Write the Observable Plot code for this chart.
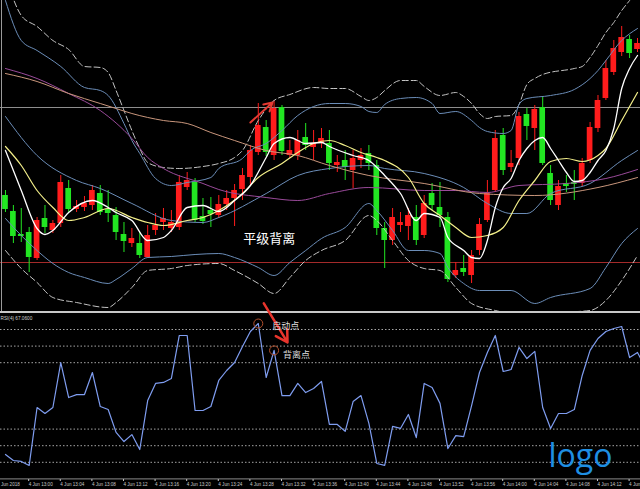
<!DOCTYPE html>
<html><head><meta charset="utf-8">
<script src="https://cdn.jsdelivr.net/npm/d3@7"></script>
<script src="https://cdn.jsdelivr.net/npm/@observablehq/plot@0.6"></script>
<style>
html,body{margin:0;padding:0;background:#000;overflow:hidden;width:640px;height:489px;}
#chart{position:relative;width:640px;height:489px;}
#chart svg{display:block;}
</style></head>
<body><div id="chart"></div>
<script>
// ---------- candles (1-minute bars, bar 0 = 12:57) ----------
const candleOpen  = [125,109,86,88,62,102,90,97,132,111, 113,115,127,111,105,86,77,77,63,90, 98,92,93,133,138,104,110,105,116,122, 131,143,168,193,165,213,165,165,183,173, 177,177,155,160,150,160,167,155,92,80, 95,94,103,85,127,113,103,45,52,45, 70,100,130,185,153,162,206,192,213,147, 115,137,138,137,160,192,222,248,268,281, 271];
const candleClose = [111,84,84,63,100,93,97,138,111,114, 117,130,108,107,88,79,82,65,85,95, 102,98,138,140,100,99,106,116,122,130, 145,170,195,168,212,169,170,180,175,177, 182,157,158,153,162,165,157,92,80,103, 98,105,80,117,115,105,41,50,48,65, 96,127,182,150,157,204,194,211,157,120, 134,134,136,157,193,220,252,272,283,267, 277];
const candleHigh  = [130,115,112,93,103,115,100,145,140,120, 124,135,135,130,113,98,92,88,95,107, 112,110,145,148,142,122,123,125,130,136, 152,175,217,200,220,215,180,190,197,190, 192,190,165,170,170,172,175,160,98,112, 108,112,115,125,137,138,108,58,65,70, 102,140,190,192,170,208,212,215,223,155, 140,145,150,162,198,225,260,280,294,285, 282];
const candleLow   = [108,77,78,48,60,87,87,93,108,108, 109,110,105,98,80,68,73,62,62,85, 90,88,90,130,98,96,93,102,110,94, 120,135,165,164,160,165,162,160,170,160, 172,150,148,140,132,152,150,85,52,75, 88,80,75,82,110,93,38,42,44,37, 65,98,128,145,148,155,180,170,155,115, 110,128,120,134,157,188,220,245,264,262, 268];

// ---------- indicator lines: [bar, value] ----------
const bandOuterUpper = [[0,345],[2,305],[4,294],[6,280],[8,271],[10,254],[12,253],[13,248],[14,230],[15,210],[16,190],[17,172],[18,158],[20,153],[22,152],[25,154],[27,157],[29,163],[30,170],[32,200],[34,220],[36,226],[39,233],[41,232],[43,232],[45,224],[46,220],[47,223],[48,230],[50,240],[52,240],[53,234],[55,225],[57,228],[58,224],[59,217],[60,207],[61,202],[62,204],[64,205],[65,216],[66,236],[67,242],[68,246],[72,252],[73,254],[74,263],[75,275],[76,288],[77,298],[78,310],[79,320],[80,330]];
const bandInnerUpper = [[0,320],[2,280],[4,270],[7,254],[10,233],[12,230],[13,225],[15,197],[16,180],[17,167],[19,142],[21,135],[23,138],[26,143],[27,152],[30,162],[31,170],[33,177],[35,190],[37,205],[39,214],[41,217],[43,217],[45,214],[46,209],[47,208],[48,216],[50,222],[52,223],[54,217],[55,207],[57,209],[59,200],[60,193],[61,189],[63,187],[64,190],[65,216],[66,222],[69,225],[72,231],[74,242],[75,250],[76,260],[78,280],[80,292]];
const bandMiddle = [[0,204],[4,165],[9,140],[12,132],[16,117],[21,100],[25,98],[27,103],[33,127],[37,145],[41,152],[46,155],[48,152],[53,147],[58,133],[61,117],[64,107],[66,107],[69,127],[74,137],[78,160],[80,170]];
const bandInnerLower = [[0,102],[2,85],[4,70],[6,57],[8,48],[10,43],[13,37],[14,41],[16,52],[18,63],[21,64],[24,66],[27,67],[29,63],[32,53],[34,45],[36,58],[38,70],[40,82],[43,93],[46,117],[47,110],[49,90],[51,70],[53,70],[55,67],[56,53],[58,37],[60,30],[64,30],[67,17],[69,23],[74,32],[76,53],[78,77],[80,92]];
const bandOuterLower = [[0,70],[2,52],[4,38],[6,23],[9,18],[13,13],[14,18],[16,33],[18,50],[21,52],[23,55],[27,57],[29,50],[32,37],[34,27],[36,43],[38,60],[40,70],[43,80],[46,105],[47,100],[49,80],[51,60],[53,52],[55,50],[57,33],[59,17],[62,10],[66,5],[70,8],[74,10],[76,20],[78,40],[80,65]];
const maPurple = [[0,252],[4,242],[8,227],[12,210],[16,182],[18,163],[20,152],[25,137],[27,131],[33,123],[37,120],[41,127],[46,133],[53,130],[57,130],[61,128],[65,135],[71,137],[76,142],[80,151]];
const maTan = [[0,247],[4,239],[8,227],[12,217],[14,212],[16,207],[20,200],[23,197],[26,188],[29,180],[33,170],[37,165],[41,155],[46,145],[53,137],[60,127],[67,125],[75,133],[80,143]];
const maYellow = [[0,174],[2,155],[4,130],[6,113],[8,100],[10,103],[13,112],[16,103],[18,98],[20,95],[23,100],[25,103],[27,110],[30,127],[32,143],[35,157],[37,168],[39,177],[41,180],[43,175],[45,168],[47,163],[48,160],[51,143],[53,117],[55,105],[57,93],[59,83],[61,85],[63,93],[65,120],[67,140],[69,159],[71,162],[73,159],[75,165],[76,172],[78,200],[80,228]];
const maWhite = [[0,170],[2,130],[4,92],[5,86],[6,90],[8,108],[11,120],[13,113],[14,108],[16,100],[18,80],[20,83],[21,90],[23,113],[25,115],[27,109],[29,120],[31,135],[33,163],[34,177],[36,183],[38,177],[40,178],[41,174],[44,165],[46,160],[48,145],[50,127],[52,100],[53,107],[55,103],[56,83],[58,70],[59,63],[60,62],[61,80],[62,113],[63,133],[64,142],[65,160],[66,172],[67,180],[68,183],[69,172],[70,160],[71,148],[72,139],[73,140],[74,148],[75,160],[76,170],[77,192],[78,232],[79,252],[80,265]];
const levelHigh = 213, levelLow = 58;

// ---------- RSI(4) ----------
const rsiValues = [14.7,11.1,10.5,8.1,43.0,39.4,43.0,70.1,49.0,50.8, 50.8,64.1,43.6,41.8,28.0,22.5,26.7,17.7,47.2,57.5, 58.1,60.5,86.4,86.4,41.2,41.2,43.6,59.3,65.3,70.1, 79.8,88.8,93.6,61.1,77.4,50.2,50.2,57.5,52.0,54.5, 58.7,32.8,32.8,28.6,46.6,50.2,33.4,9.3,8.1,31.6, 30.4,38.8,24.9,57.5,55.1,45.5,18.3,26.1,25.5,44.2, 64.1,76.2,86.4,64.7,65.9,79.2,72.5,76.8,43.0,30.4, 39.4,39.4,41.8,62.3,77.4,84.6,88.8,90.6,91.8,73.1, 76.2,67.06];
const rsiLevels = [90, 80, 70, 30, 20, 10];

// ---------- time axis ----------
const tickBars = [-1,3,7,11,15,19,23,27,31,35,39,43,47,51,55,59,63,67,71,75,79];
const tickLabels = ["4 Jun 2018","4 Jun 13:00","4 Jun 13:04","4 Jun 13:08","4 Jun 13:12","4 Jun 13:16","4 Jun 13:20","4 Jun 13:24","4 Jun 13:28","4 Jun 13:32","4 Jun 13:36","4 Jun 13:40","4 Jun 13:44","4 Jun 13:48","4 Jun 13:52","4 Jun 13:56","4 Jun 14:00","4 Jun 14:04","4 Jun 14:08","4 Jun 14:12","4 Jun 14:16"];

// ---------- annotations ----------
const mainArrowBars = [31.0, 33.8], mainArrowValues = [198, 218];
const mainNoteText = "平级背离", mainNoteBar = 33.4, mainNoteValue = 82;
const rsiArrowBars = [32.7, 35.7], rsiArrowValues = [105.7, 82.2];
const rsiMarkerBars = [32, 34], rsiMarkerLabels = ["启动点", "背离点"];
const logoText = "logo";

// ---------- build ----------
const xDomain = [-0.63, 80.38];
const upColor = "#ff1c1c", downColor = "#22e622";
const candles = candleOpen.map((open, bar) => ({bar, open, close: candleClose[bar], high: candleHigh[bar], low: candleLow[bar], up: candleClose[bar] >= open}));
const rsi = rsiValues.map((value, bar) => ({bar, value}));

const ln = (data, stroke, extra = {}) => Plot.line(data, {x: d => d[0], y: d => d[1], stroke, strokeWidth: 1, curve: "monotone-x", ...extra});

const main = Plot.plot({
  width: 640, height: 311, margin: 0,
  style: {background: "#000", display: "block"},
  x: {domain: xDomain, axis: null},
  y: {domain: [9, 320], axis: null},
  color: {type: "identity"},
  marks: [
    Plot.ruleY([levelHigh], {stroke: "#8e8e8e", strokeWidth: 1}),
    Plot.ruleY([levelLow], {stroke: "#a42a2a", strokeWidth: 1}),
    Plot.ruleX([xDomain[0]], {dx: 1, stroke: "#9a9a9a"}),
    Plot.ruleX(candles, {x: "bar", y1: "low", y2: "high", stroke: d => d.up ? upColor : downColor, strokeWidth: 1}),
    Plot.rect(candles, {x1: d => d.bar - 0.36, x2: d => d.bar + 0.36, y1: "open", y2: "close", fill: d => d.up ? upColor : downColor}),
    ln(bandOuterUpper, "#c4c4c4", {strokeDasharray: "6,3"}),
    ln(bandOuterLower, "#c4c4c4", {strokeDasharray: "6,3"}),
    ln(bandInnerUpper, "#6b8db8"),
    ln(bandInnerLower, "#6b8db8"),
    ln(bandMiddle, "#6b8db8"),
    ln(maPurple, "#9a4a9a"),
    ln(maTan, "#c9967c"),
    ln(maYellow, "#f3ef8a", {strokeWidth: 1.2}),
    ln(maWhite, "#ffffff", {strokeWidth: 1.3}),
    Plot.arrow([0], {x1: () => mainArrowBars[0], y1: () => mainArrowValues[0], x2: () => mainArrowBars[1], y2: () => mainArrowValues[1], stroke: "#e63a32", strokeWidth: 2, headLength: 7}),
    Plot.text([mainNoteText], {x: () => mainNoteBar, y: () => mainNoteValue, text: d => d, fill: "#ffffff", fontSize: 13, fontFamily: "Noto Sans CJK SC", textAnchor: "middle"})
  ]
});

const markers = rsi.filter(d => rsiMarkerBars.includes(d.bar));
const rsiPlot = Plot.plot({
  width: 640, height: 178, marginTop: 0, marginLeft: 0, marginRight: 0, marginBottom: 10,
  style: {background: "#000", display: "block", overflow: "visible", fontFamily: "Liberation Sans, Arial, sans-serif"},
  x: {domain: xDomain},
  y: {domain: [0, 100], range: [167.4, 1.4], axis: null},
  marks: [
    Plot.ruleY(rsiLevels, {stroke: "#cfcfcf", strokeDasharray: "1.5,2", strokeWidth: 0.8}),
    Plot.ruleY([0], {stroke: "#8a8a8a", strokeWidth: 1}),
    Plot.ruleY([100], {dy: -1, stroke: "#c8c8c8", strokeWidth: 2}),
    Plot.line(rsi, {x: "bar", y: "value", stroke: "#7f9df0", strokeWidth: 1.2}),
    Plot.dot(markers, {x: "bar", y: "value", r: 4.5, stroke: "#b4502c", strokeWidth: 1}),
    Plot.arrow([0], {x1: () => rsiArrowBars[0], y1: () => rsiArrowValues[0], x2: () => rsiArrowBars[1], y2: () => rsiArrowValues[1], stroke: "#e8342c", strokeWidth: 2.5, headLength: 8}),
    Plot.text(markers, {x: "bar", y: "value", text: (d, i) => rsiMarkerLabels[i], dx: 14, dy: 2.5, textAnchor: "start", fill: "#dedede", fontSize: 9, fontFamily: "Noto Sans CJK SC", filter: (d, i) => i === 0}),
    Plot.text(markers, {x: "bar", y: "value", text: (d, i) => rsiMarkerLabels[i], dx: 9, dy: 5, textAnchor: "start", fill: "#dedede", fontSize: 9, fontFamily: "Noto Sans CJK SC", filter: (d, i) => i === 1}),
    Plot.text(["RSI(4) " + rsiValues[rsiValues.length - 1].toFixed(4)], {frameAnchor: "top-left", text: d => d, dx: 0, dy: 4.9, textAnchor: "start", fill: "#d0d0d0", fontSize: 4.7}),
    Plot.axisX({ticks: tickBars, tickFormat: d => tickLabels[tickBars.indexOf(d)], anchor: "bottom", tickSize: 2, tickPadding: 1, textAnchor: "start", dx: -0.5, color: "#c8c8c8", fontSize: 4.6, label: null}),
    Plot.text([logoText], {frameAnchor: "bottom-left", text: d => d, dx: 548, dy: -12.2, textAnchor: "start", fill: "#1f8fe2", fontSize: 32, fontFamily: "Open Sans"})
  ]
});

const host = document.getElementById("chart");
host.appendChild(main);
host.appendChild(rsiPlot);
</script>
</body></html>
